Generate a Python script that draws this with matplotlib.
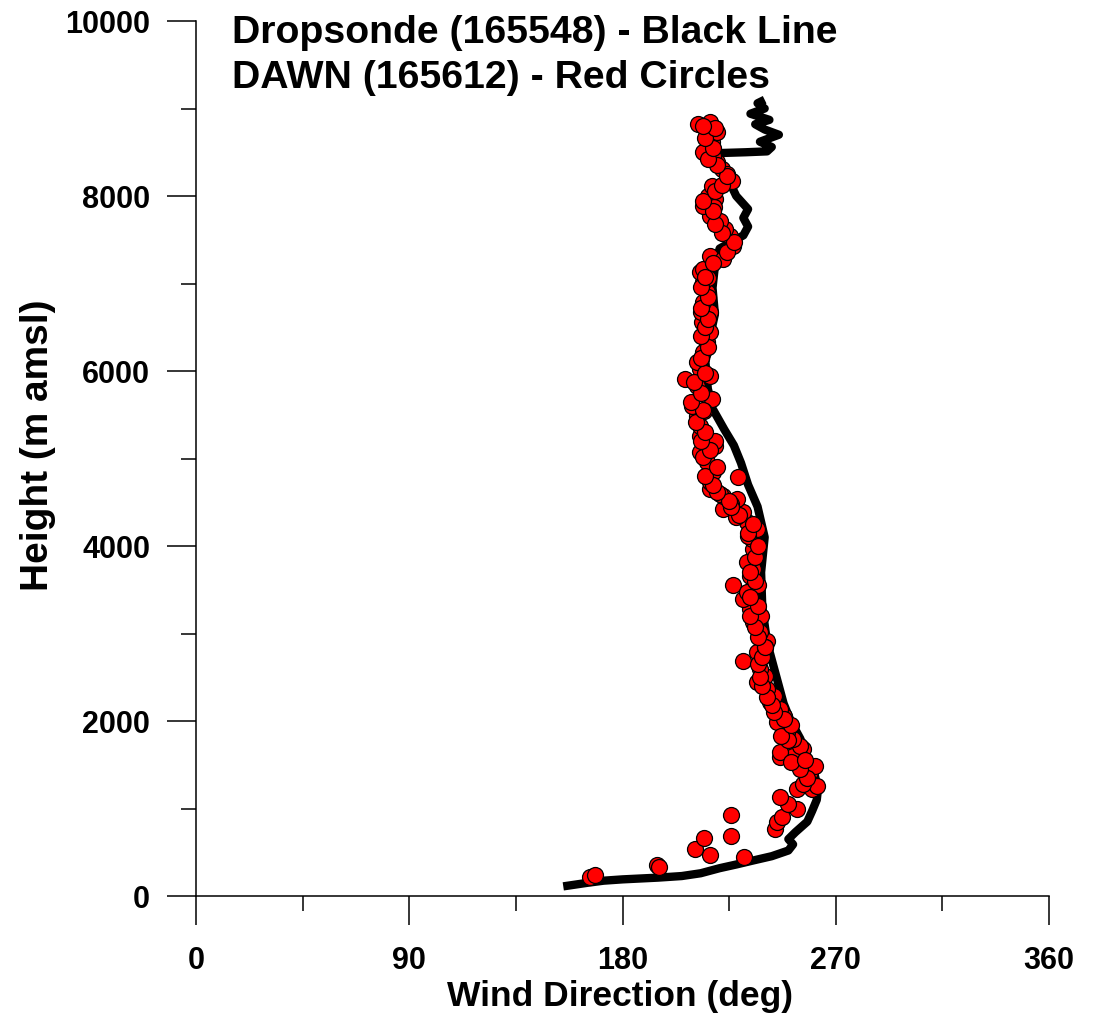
import matplotlib
matplotlib.use("Agg")
import matplotlib.pyplot as plt
from matplotlib.ticker import MultipleLocator

plt.rcParams["font.family"] = ["Liberation Sans", "DejaVu Sans"]
plt.rcParams["font.weight"] = "bold"

# Dropsonde (165548): wind direction (deg) vs height (m amsl)
sonde_dir = [155, 165, 172, 180, 195, 205, 213, 221, 228, 235, 243, 250, 252, 250,
             253, 258, 260, 262, 262.5, 261, 258, 255, 251, 248, 245, 241, 239, 238.5,
             240, 237, 233, 230, 227, 223, 218, 216, 215, 217, 219, 218, 219, 221,
             231, 233, 231, 233, 228, 225, 223, 219, 220, 232, 241, 243, 238, 246,
             240, 236, 242, 234, 240, 237, 240]
sonde_hgt = [110, 150, 175, 190, 210, 228, 260, 318, 360, 405, 455, 520, 590, 650,
             730, 850, 970, 1100, 1220, 1400, 1600, 1800, 2000, 2200, 2500, 2900, 3300, 3700,
             4100, 4450, 4700, 4950, 5150, 5330, 5570, 5800, 6100, 6400, 6650, 6950, 7200, 7400,
             7550, 7650, 7750, 7850, 8000, 8170, 8300, 8450, 8490, 8500, 8510, 8560, 8620, 8700,
             8760, 8820, 8870, 8940, 9000, 9060, 9100]

# DAWN (165612)
dawn_dir = [166.3, 168.4, 194.6, 195.4, 231.3, 216.9, 210.6, 214.4, 225.8, 244.4,
            245.2, 247.3, 225.8, 253.6, 249.9, 246.5, 253.6, 260.0, 262.1, 256.2,
            259.1, 261.2, 256.2, 253.6, 249.4, 246.5, 252.0, 246.5, 254.9, 252.0,
            249.4, 245.2, 248.0, 246.5, 242.3, 244.0, 241.0, 236.8, 240.0, 238.0,
            236.8, 230.9, 241.0, 238.0, 235.1, 233.8, 230.9, 226.6, 232.5, 233.8,
            235.1, 232.5, 235.1, 234.7, 236.8, 232.5, 230.9, 228.3, 222.4, 222.4,
            216.9, 228.8, 216.9, 218.2, 215.7, 212.7, 219.0, 212.7, 212.7, 211.5,
            209.3, 217.8, 211.5, 216.9, 206.4, 212.7, 211.5, 214.0, 215.7, 216.9,
            213.6, 216.9, 214.0, 215.7, 214.0, 212.7, 214.0, 216.9, 222.4, 226.6,
            225.4, 223.3, 221.1, 216.9, 214.0, 219.0, 216.1, 217.8, 226.2, 222.0,
            219.9, 218.2, 214.0, 217.8, 219.9, 216.9, 211.9, 240.0, 238.5, 237.0,
            228.0, 226.0, 221.0, 219.0, 214.5, 213.0, 216.0, 218.5, 224.0, 233.0,
            258.0, 255.0, 251.0, 257.0, 250.0, 247.0, 251.0, 248.0, 244.0, 243.0,
            241.0, 239.0, 238.0, 237.0, 239.0, 240.0, 237.0, 236.0, 234.0, 237.0,
            234.0, 236.0, 234.0, 236.0, 237.0, 233.0, 235.0, 229.0, 226.0, 225.0,
            220.0, 218.0, 215.0, 220.0, 214.0, 217.0, 213.0, 215.0, 211.0, 214.0,
            209.0, 213.0, 210.0, 215.0, 213.0, 216.0, 213.0, 215.0, 216.0, 213.0,
            216.0, 213.0, 215.0, 218.0, 224.0, 227.0, 222.0, 219.0, 218.0, 214.0,
            219.0, 222.0, 224.0, 220.0, 216.0, 218.0, 215.0, 219.0, 214.0]
dawn_hgt = [217, 240, 354, 331, 446, 469, 537, 663, 686, 766,
            846, 903, 926, 994, 1051, 1131, 1223, 1223, 1257, 1280,
            1417, 1486, 1680, 1737, 1714, 1589, 1600, 1646, 1714, 1794,
            1874, 1989, 2060, 2137, 2217, 2290, 2366, 2446, 2520, 2594,
            2789, 2686, 2914, 3017, 3131, 3280, 3394, 3560, 3474, 3657,
            3737, 3817, 3966, 4080, 4194, 4274, 4389, 4537, 4423, 4571,
            4651, 4789, 4731, 4846, 4960, 5074, 5143, 5257, 5371, 5486,
            5600, 5680, 5829, 5943, 5909, 6023, 6103, 6217, 6331, 6446,
            6560, 6674, 6789, 6903, 7017, 7131, 7166, 7314, 7280, 7429,
            7543, 7623, 7714, 7771, 7886, 7966, 8000, 8114, 8171, 8309,
            8389, 8457, 8503, 8617, 8731, 8846, 8823, 2850, 3200, 3550,
            4330, 4480, 4600, 5200, 5540, 6680, 7060, 7880, 8250, 4120,
            1350, 1450, 1530, 1560, 1780, 1830, 1950, 2020, 2100, 2180,
            2280, 2400, 2500, 2650, 2730, 2850, 2960, 3080, 3200, 3320,
            3420, 3600, 3700, 3880, 4000, 4150, 4250, 4350, 4450, 4520,
            4620, 4700, 4800, 4900, 5020, 5100, 5200, 5300, 5420, 5550,
            5650, 5750, 5870, 5980, 6150, 6270, 6400, 6500, 6600, 6720,
            6850, 6960, 7080, 7230, 7360, 7480, 7580, 7680, 7830, 7940,
            8060, 8130, 8230, 8350, 8420, 8550, 8660, 8780, 8800]

fig = plt.figure(figsize=(11.11, 10.20), dpi=100)
ax = fig.add_axes([196 / 1111, 1 - 897 / 1020, 853 / 1111, 875 / 1020])

ax.plot(sonde_dir, sonde_hgt, color="black", lw=6, solid_capstyle="butt",
        solid_joinstyle="round", zorder=2)
ax.plot(dawn_dir, dawn_hgt, ls="none", marker="o", ms=11.5, mfc="#ff0000",
        mec="black", mew=0.9, zorder=3)

ax.set_xlim(0, 360)
ax.set_ylim(0, 10000)
ax.xaxis.set_major_locator(MultipleLocator(90))
ax.xaxis.set_minor_locator(MultipleLocator(45))
ax.yaxis.set_major_locator(MultipleLocator(2000))
ax.yaxis.set_minor_locator(MultipleLocator(1000))
for s in ["top", "right"]:
    ax.spines[s].set_visible(False)
for s in ["left", "bottom"]:
    ax.spines[s].set_linewidth(1.1)
ax.tick_params(which="major", direction="out", length=21, width=1.1, labelsize=22)
ax.tick_params(which="minor", direction="out", length=10.5, width=1.1)
ax.tick_params(axis="x", which="major", pad=14)
ax.tick_params(axis="y", which="major", pad=12)
for lab in ax.get_xticklabels() + ax.get_yticklabels():
    lab.set_fontweight("bold")

fig.text(620 / 1111, 1 - 997 / 1020, "Wind Direction (deg)", fontsize=25.5,
         fontweight="bold", ha="center", va="center")
fig.text(38 / 1111, 1 - 445 / 1020, "Height (m amsl)", fontsize=28,
         fontweight="bold", ha="center", va="center", rotation=90)

fig.text(232 / 1111, 1 - 33 / 1020, "Dropsonde (165548) - Black Line",
         fontsize=28.3, fontweight="bold", va="center", ha="left")
fig.text(232 / 1111, 1 - 78 / 1020, "DAWN (165612) - Red Circles",
         fontsize=28.3, fontweight="bold", va="center", ha="left")

fig.savefig("out.png", dpi=100)
